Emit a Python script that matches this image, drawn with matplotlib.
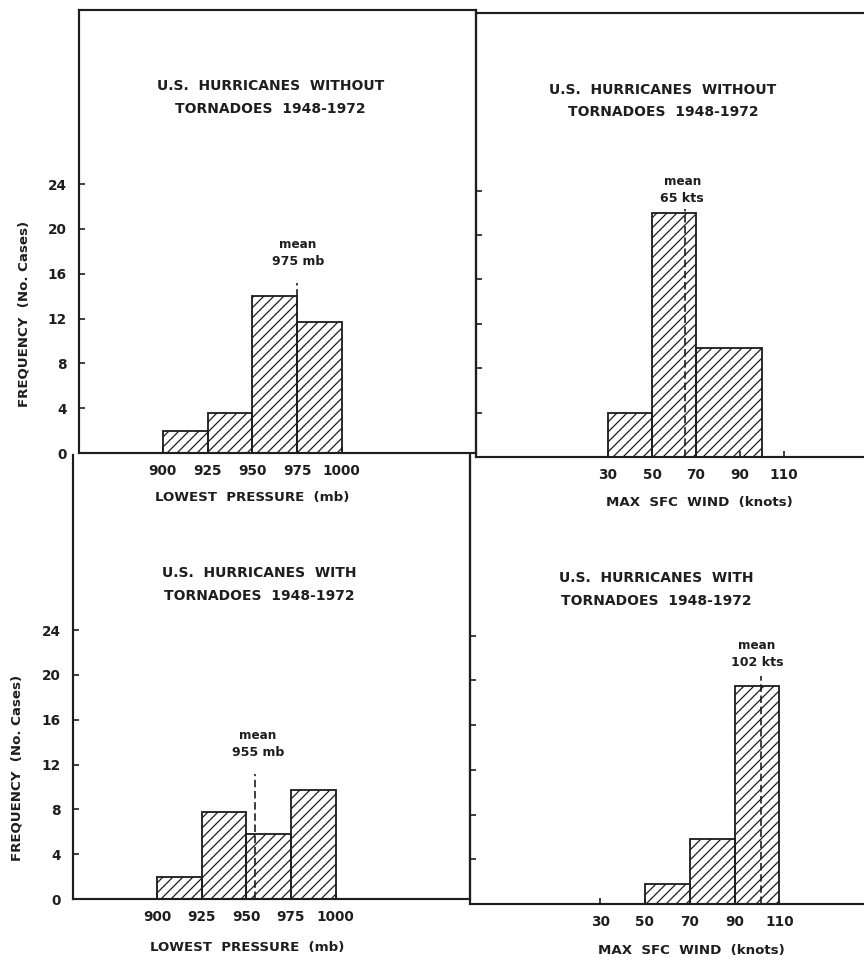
# plot.py
# four hurricane histograms (pressure / wind, with and without tornadoes)

import numpy as np
import matplotlib
matplotlib.use('Agg')
import matplotlib.pyplot as plt

# ---- data ----
pres_edges = [900, 925, 950, 975, 1000]
pres_ticks = [900, 925, 950, 975, 1000]
pres_without = [2.0, 3.6, 14.0, 11.7]
pres_with = [2.0, 7.8, 5.8, 9.7]

wind_ticks = [30, 50, 70, 90, 110]
wind_edges_without = [30, 50, 70, 100]
wind_without = [4.0, 22.0, 9.8]
wind_edges_with = [50, 70, 90, 110]
wind_with = [1.8, 5.8, 19.5]

freq_ticks = [0, 4, 8, 12, 16, 20, 24]

# mean value, top of dashed line, label
mean_pres_without = (975, 15.2, '975 mb')
mean_wind_without = (65, 22.3, '65 kts')
mean_pres_with = (955, 11.2, '955 mb')
mean_wind_with = (102, 20.4, '102 kts')

title_without = ['U.S.  HURRICANES  WITHOUT', 'TORNADOES  1948-1972']
title_with = ['U.S.  HURRICANES  WITH', 'TORNADOES  1948-1972']
pres_label = 'LOWEST  PRESSURE  (mb)'
wind_label = 'MAX  SFC  WIND  (knots)'
freq_label = 'FREQUENCY  (No. Cases)'

ink = '#1e1e1e'
W, H, DPI = 864, 962, 120

plt.rcParams['font.family'] = ['DejaVu Sans']
plt.rcParams['font.weight'] = 'bold'
plt.rcParams['hatch.linewidth'] = 0.75
plt.rcParams['hatch.color'] = ink

fig = plt.figure(figsize=(W / DPI, H / DPI), dpi=DPI)


def px_axes(x0, x1, y0, y1):
    # axes rectangle given in pixel coords (origin top-left)
    return fig.add_axes([x0 / W, 1 - y1 / H, (x1 - x0) / W, (y1 - y0) / H])


def plot_panel(ax, edges, counts, mean, xticks, xlim, ylim, spines,
               title, title_xy, mean_xy, xlabel, xlabel_xy, ylabel_xy=None):
    widths = np.diff(edges)
    ax.bar(edges[:-1], counts, width=widths, align='edge', fill=False,
           hatch='////', edgecolor=ink, linewidth=1.1)
    ax.plot([mean[0], mean[0]], [0, mean[1]], color=ink, lw=1.0,
            dashes=(4.5, 2.2))

    ax.set_xlim(xlim)
    ax.set_ylim(ylim)
    ax.set_xticks(xticks)
    ax.set_yticks(freq_ticks)
    ax.tick_params(direction='in', length=3.6, width=1.0, color=ink,
                   labelsize=8.2, labelcolor=ink)
    ax.tick_params(axis='x', pad=6.5)
    ax.tick_params(axis='y', pad=7.5)
    if ylabel_xy is None:
        ax.set_yticklabels([])

    for side in ['left', 'right', 'top', 'bottom']:
        ax.spines[side].set_visible(side in spines)
        ax.spines[side].set_linewidth(1.3)
        ax.spines[side].set_color(ink)
    ax.patch.set_alpha(0)

    # two-line title
    tx, ty = title_xy
    ax.text(tx, ty, title[0], ha='center', va='center', fontsize=8.3, color=ink)
    ax.text(tx, ty - 2.05, title[1], ha='center', va='center', fontsize=8.3,
            color=ink)

    mx, my = mean_xy
    ax.text(mx, my, 'mean', ha='center', va='center', fontsize=7.2, color=ink)
    ax.text(mx, my - 1.5, mean[2], ha='center', va='center', fontsize=7.6,
            color=ink)

    ax.text(xlabel_xy[0], xlabel_xy[1], xlabel, ha='center', va='center',
            fontsize=8.0, color=ink, clip_on=False)
    if ylabel_xy is not None:
        ax.text(ylabel_xy[0], ylabel_xy[1], freq_label, ha='center',
                va='center', rotation=90, fontsize=8.0, color=ink,
                clip_on=False)


# top-left: pressure, without tornadoes
ax1 = px_axes(79, 476, 10, 453)
plot_panel(ax1, pres_edges, pres_without, mean_pres_without, pres_ticks,
           (853.2, 1075.0), (0, 39.55), ['left', 'right', 'top', 'bottom'],
           title_without, (960, 32.8), (975.5, 18.6),
           pres_label, (950, -4.0), ylabel_xy=(822.5, 12.4))

# top-right: wind, without tornadoes
ax2 = px_axes(476, 864, 13, 457)
plot_panel(ax2, wind_edges_without, wind_without, mean_wind_without,
           wind_ticks, (-30, 146.4), (0, 40.0), ['left', 'top', 'bottom'],
           title_without, (55.0, 33.1), (63.8, 24.8),
           wind_label, (71.7, -4.1))

# bottom-left: pressure, with tornadoes
ax3 = px_axes(73, 470, 455, 899)
plot_panel(ax3, pres_edges, pres_with, mean_pres_with, pres_ticks,
           (853.0, 1075.2), (0, 39.64), ['left', 'right', 'bottom'],
           title_with, (957, 29.1), (956.6, 14.6),
           pres_label, (950.6, -4.3), ylabel_xy=(821.7, 11.7))

# bottom-right: wind, with tornadoes
ax4 = px_axes(470, 864, 458, 904)
plot_panel(ax4, wind_edges_with, wind_with, mean_wind_with, wind_ticks,
           (-28.1, 147.8), (0, 39.9), ['left', 'bottom'],
           title_with, (55.0, 29.2), (100, 23.1),
           wind_label, (70.8, -4.2))

plt.savefig('out.png', dpi=DPI, facecolor='white')
plt.close(fig)
